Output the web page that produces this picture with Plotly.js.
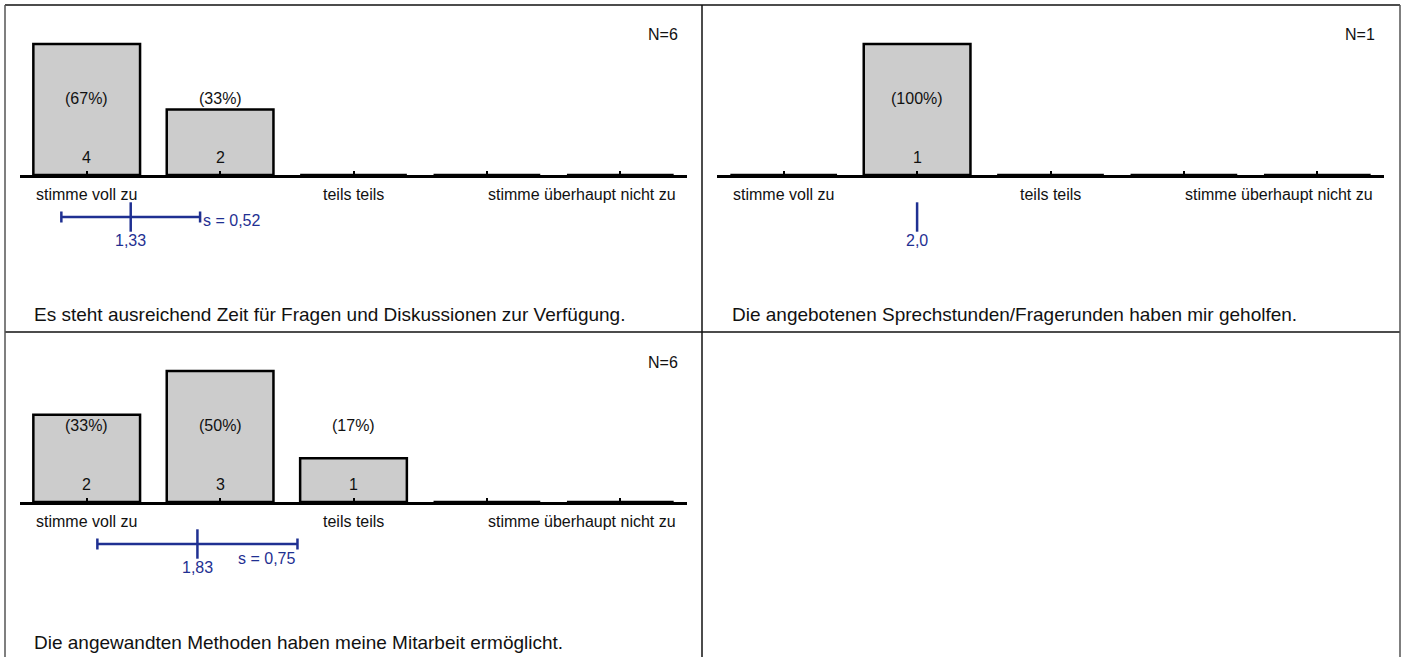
<!DOCTYPE html>
<html>
<head>
<meta charset="utf-8">
<script src="https://cdn.plot.ly/plotly-3.0.1.min.js"></script>
<style>
html,body{margin:0;padding:0;background:#fff;}
#chart{width:1404px;height:657px;}
</style>
</head>
<body>
<div id="chart"></div>
<script>
// ---- data ----
const categories = [1, 2, 3, 4, 5];
const scaleLabels = ["stimme voll zu", "", "teils teils", "", "stimme überhaupt nicht zu"];
const questions = [
  "Es steht ausreichend Zeit für Fragen und Diskussionen zur Verfügung.",
  "Die angebotenen Sprechstunden/Fragerunden haben mir geholfen.",
  "Die angewandten Methoden haben meine Mitarbeit ermöglicht."
];
const countsA = [4, 2, 0, 0, 0];
const countsB = [0, 1, 0, 0, 0];
const countsC = [2, 3, 1, 0, 0];
const nValues = [6, 1, 6];
const means = [1.33, 2.0, 1.83];
const sds = [0.52, 0, 0.75];
const meanLabels = ["1,33", "2,0", "1,83"];
const sdLabels = ["s = 0,52", "", "s = 0,75"];

// ---- layout helpers (pixels -> paper) ----
const W = 1404, H = 657;
const PX = p => p / W;
const PY = p => 1 - p / H;
const BLUE = "#1f3092";
const FONT = "Liberation Sans, Arial, Helvetica, sans-serif";
const FS = 16;

// panel geometry: x domain in px, axis baseline y in px
const panels = [
  {counts: countsA, x0: 20, x1: 687, axisY: 175, qx: 32, nx: 680, sdMode: "right"},
  {counts: countsB, x0: 717, x1: 1384, axisY: 175, qx: 730, nx: 1377, sdMode: "none"},
  {counts: countsC, x0: 20, x1: 687, axisY: 502, qx: 32, nx: 680, sdMode: "below"}
];
const BAR_MAX_PX = 131;

const traces = [];
const annotations = [];
const layout = {
  width: W, height: H,
  margin: {l: 0, r: 0, t: 0, b: 0, pad: 0},
  paper_bgcolor: "#fff", plot_bgcolor: "rgba(0,0,0,0)",
  showlegend: false,
  font: {family: FONT, size: FS, color: "#000"},
  hovermode: false,
  annotations: annotations,
  shapes: []
};

panels.forEach((p, i) => {
  const k = i + 1;
  const xa = k === 1 ? "x" : "x" + k;
  const ya = k === 1 ? "y" : "y" + k;
  const ym = "y" + (k + 3);
  const maxC = Math.max(...p.counts);
  const topPx = p.axisY - BAR_MAX_PX * 1.1;

  layout["xaxis" + (k === 1 ? "" : k)] = {
    domain: [PX(p.x0), PX(p.x1)],
    range: [0.5, 5.5],
    anchor: ya,
    showgrid: false, zeroline: false,
    showline: true, linecolor: "#000", linewidth: 3,
    ticks: "inside", tickvals: categories, ticklen: 4, tickwidth: 2, tickcolor: "#000",
    showticklabels: false,
    fixedrange: true
  };
  layout["yaxis" + (k === 1 ? "" : k)] = {
    domain: [PY(p.axisY), PY(topPx)],
    range: [0, maxC * 1.1],
    anchor: xa,
    visible: false, showgrid: false, zeroline: false, fixedrange: true
  };
  layout["yaxis" + (k + 3)] = {
    domain: [PY(p.axisY + 58), PY(p.axisY + 26)],
    range: [-1, 1],
    anchor: xa,
    visible: false, showgrid: false, zeroline: false, fixedrange: true
  };

  // bars
  traces.push({
    type: "bar", x: categories, y: p.counts, xaxis: xa, yaxis: ya,
    width: 0.8,
    marker: {color: "#cccccc", line: {color: "#000", width: 2.5}},
    hoverinfo: "skip"
  });

  // mean and standard deviation
  traces.push({
    type: "scatter", mode: "markers", x: [means[i]], y: [0], xaxis: xa, yaxis: ym,
    marker: {symbol: "line-ns", size: 21, color: BLUE, line: {color: BLUE, width: 2.5}},
    error_x: {type: "data", array: [sds[i]], visible: sds[i] > 0, color: BLUE, thickness: 2.5, width: 5.5},
    hoverinfo: "skip", cliponaxis: false
  });

  // bar text: percentage and count
  const N = nValues[i];
  p.counts.forEach((c, j) => {
    if (c > 0) {
      annotations.push({
        xref: xa, yref: "paper", x: categories[j], y: PY(p.axisY - 77),
        text: "(" + Math.round(c / N * 100) + "%)", showarrow: false,
        xanchor: "center", yanchor: "middle", font: {size: FS, color: "#111"}
      });
      annotations.push({
        xref: xa, yref: "paper", x: categories[j], y: PY(p.axisY - 18),
        text: String(c), showarrow: false,
        xanchor: "center", yanchor: "middle", font: {size: FS, color: "#111"}
      });
    }
  });

  // scale labels
  scaleLabels.forEach((lab, j) => {
    if (!lab) return;
    const last = j === scaleLabels.length - 1;
    annotations.push({
      xref: xa, yref: "paper",
      x: last ? 5.5 : categories[j], xshift: last ? -9 : 0,
      y: PY(p.axisY + 19), text: lab, showarrow: false,
      xanchor: last ? "right" : "center", yanchor: "middle",
      font: {size: FS, color: "#111"}
    });
  });

  // mean label
  annotations.push({
    xref: xa, yref: "paper", x: means[i], y: PY(p.axisY + 65),
    text: meanLabels[i], showarrow: false, xanchor: "center", yanchor: "middle",
    font: {size: FS, color: BLUE}
  });
  // sd label
  if (p.sdMode === "right") {
    annotations.push({
      xref: xa, yref: "paper", x: means[i] + sds[i], xshift: 1, y: PY(p.axisY + 45),
      text: sdLabels[i], showarrow: false, xanchor: "left", yanchor: "middle",
      font: {size: FS, color: BLUE}
    });
  } else if (p.sdMode === "below") {
    annotations.push({
      xref: xa, yref: "paper", x: means[i] + sds[i], xshift: 0, y: PY(p.axisY + 56),
      text: sdLabels[i], showarrow: false, xanchor: "right", yanchor: "middle",
      font: {size: FS, color: BLUE}
    });
  }

  // N label
  annotations.push({
    xref: "paper", yref: "paper", x: PX(p.nx), y: PY(p.axisY - 140),
    text: "N=" + N, showarrow: false, xanchor: "right", yanchor: "middle",
    font: {size: FS, color: "#111"}
  });
  // question
  annotations.push({
    xref: "paper", yref: "paper", x: PX(p.qx), y: PY(p.axisY + 140),
    text: questions[i], showarrow: false, xanchor: "left", yanchor: "middle",
    font: {size: 19, color: "#111"}
  });
});

// panel frame lines
const frame = [
  [5, 5, 1400, 5, "#111"],
  [5, 332, 1400, 332, "#111"],
  [5, 5, 5, 657, "#555"],
  [702, 5, 702, 657, "#111"],
  [1400, 5, 1400, 657, "#555"]
];
frame.forEach(f => layout.shapes.push({
  type: "line", xref: "paper", yref: "paper",
  x0: PX(f[0]), y0: PY(f[1]), x1: PX(f[2]), y1: PY(f[3]),
  line: {color: f[4], width: 1.5}
}));

Plotly.newPlot("chart", traces, layout, {displayModeBar: false, staticPlot: true});
</script>
</body>
</html>
